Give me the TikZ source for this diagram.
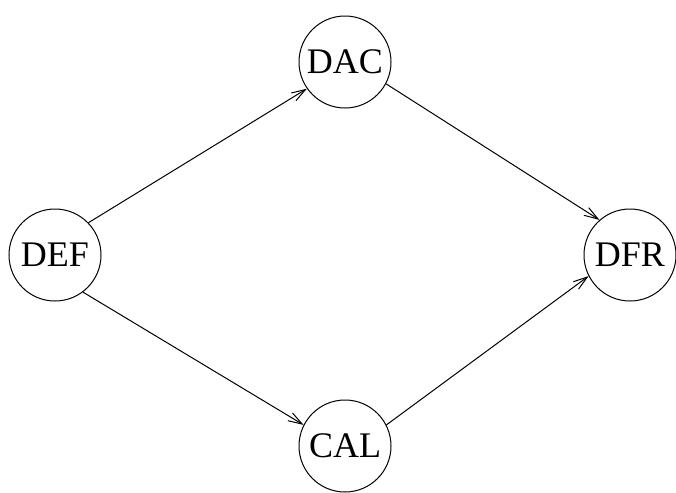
\documentclass[tikz,border=0pt]{standalone}
\usepackage{fontspec}
\setmainfont{Liberation Serif}
\usepackage{tikz}
\usetikzlibrary{arrows.meta}

\begin{document}
\begin{tikzpicture}[x=0.5pt, y=-0.5pt, stage/.style={circle, draw, line width=0.5pt, minimum size=46pt, inner sep=0pt, font=\fontsize{18}{20}\selectfont}, flow/.style={line width=0.5pt, -{Straight Barb[length=7pt, width=4.5pt]}}]
\useasboundingbox (0,0) rectangle (676,493);

% STAGES

\node [stage] (DEF) at (55,255) {DEF};
\node [stage] (DAC) at (345,62) {DAC};
\node [stage] (CAL) at (345,446) {CAL};
\node [stage] (DFR) at (630,255) {DFR};

% FLOWS

\draw [flow] (DEF.44) -- (DAC.215);
\draw [flow] (DEF.307) -- (CAL.153);
\draw [flow] (DAC.332) -- (DFR.131);
\draw [flow] (CAL.27) -- (DFR.207);

\end{tikzpicture}
\end{document}
